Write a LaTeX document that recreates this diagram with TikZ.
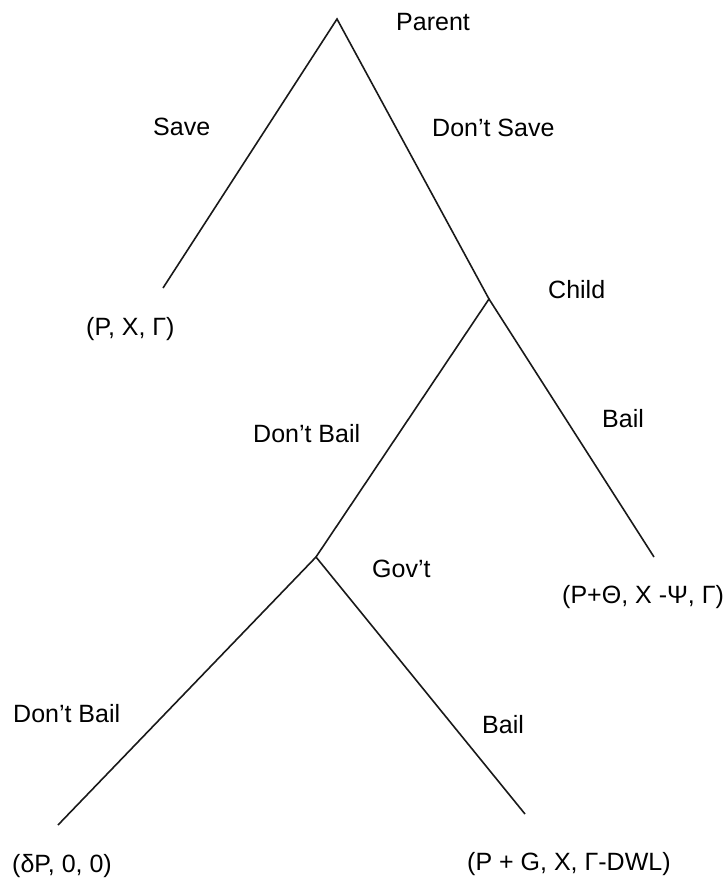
\documentclass[tikz,border=0pt]{standalone}
\usepackage{fontspec}
\setmainfont{Liberation Sans}
\usetikzlibrary{positioning}

\begin{document}
\begin{tikzpicture}[
      x=1pt, y=-1pt,
      lbl/.style={anchor=base west, inner sep=0pt, font=\fontsize{25}{30}\selectfont},
      branch/.style={line width=1.6pt, draw=black!90}
    ]
    \useasboundingbox (0,0) rectangle (727,879);
    % decision points and ends of branches
    \coordinate (par) at (337,19);
    \coordinate (sv) at (163,288);
    \coordinate (chd) at (489,299);
    \coordinate (cb) at (654,557);
    \coordinate (gov) at (316,557);
    \coordinate (gd) at (58,825);
    \coordinate (gb) at (525,814);
    % player names
    \node[lbl] (parL) at (396,30) {Parent};
    \node[lbl] (chdL) at (548,298) {Child};
    \node[lbl] (govL) at (372,577) {Gov’t};
    % actions
    \node[lbl] (saveL) at (153,135) {Save};
    \node[lbl] (dsaveL) at (432,136) {Don’t Save};
    \node[lbl] (dbailL) at (253,442) {Don’t Bail};
    \node[lbl] (bailL) at (602,427) {Bail};
    \node[lbl] (gdbailL) at (13,722) {Don’t Bail};
    \node[lbl] (gbailL) at (482,733) {Bail};
    % payoffs
    \node[lbl] (pay1) at (86,335) {(P, X, Γ)};
    \node[lbl] (pay2) at (562,603) {(P+Θ, X -Ψ, Γ)};
    \node[lbl] (pay3) at (12,872) {(δP, 0, 0)};
    \node[lbl] (pay4) at (467,870) {(P + G, X, Γ-DWL)};
    \draw[branch] (sv) -- (par) -- (chd);
    \draw[branch] (gov) -- (chd) -- (cb);
    \draw[branch] (gd) -- (gov) -- (gb);
  \end{tikzpicture}
\end{document}
